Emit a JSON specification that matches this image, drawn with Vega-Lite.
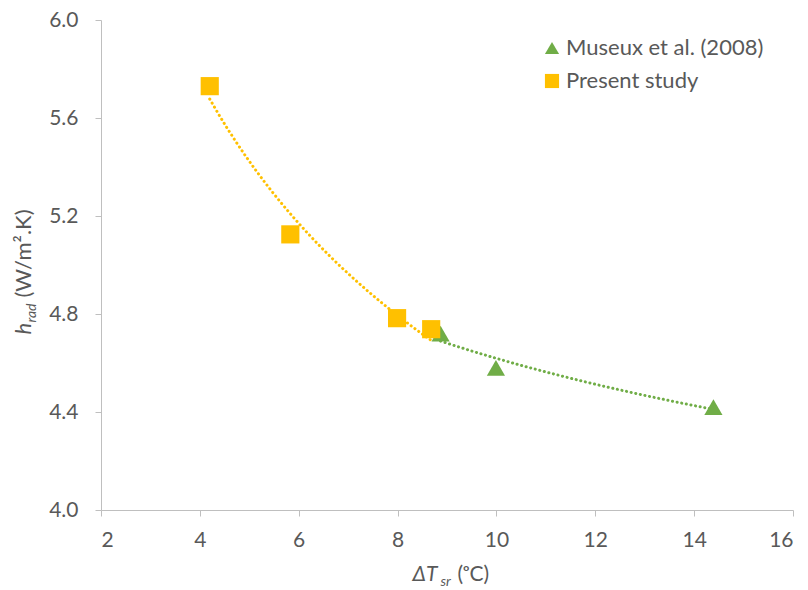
{
  "$schema": "https://vega.github.io/schema/vega-lite/v6.json",
  "width": 692,
  "height": 490,
  "autosize": {"type": "none"},
  "padding": {"left": 101, "top": 20, "right": 15, "bottom": 80},
  "background": "white",
  "config": {
    "view": {"stroke": null},
    "font": "Lato",
    "axis": {
      "grid": false,
      "domainColor": "#bfbfbf",
      "tickColor": "#bfbfbf",
      "tickSize": 6,
      "labelColor": "#595959",
      "labelFont": "Lato",
      "labelFontSize": 21,
      "titleColor": "#595959",
      "titleFont": "Lato",
      "titleFontWeight": "normal"
    }
  },
  "data": {
    "values": [
      {"series": "Museux et al. (2008)", "x": 8.87, "y": 4.72},
      {"series": "Museux et al. (2008)", "x": 9.99, "y": 4.58},
      {"series": "Museux et al. (2008)", "x": 14.39, "y": 4.42},
      {"series": "Present study", "x": 4.2, "y": 5.73},
      {"series": "Present study", "x": 5.83, "y": 5.125},
      {"series": "Present study", "x": 7.99, "y": 4.783},
      {"series": "Present study", "x": 8.68, "y": 4.738}
    ]
  },
  "resolve": {"axis": {"x": "independent", "y": "independent"}},
  "layer": [
    {
      "transform": [
        {"filter": "datum.series === 'Present study'"},
        {"regression": "y", "on": "x", "method": "pow"}
      ],
      "mark": {"type": "line", "stroke": "#FFC000", "strokeWidth": 3, "strokeCap": "round", "strokeDash": [0.1, 4.6]},
      "encoding": {
        "x": {
          "field": "x", "type": "quantitative",
          "scale": {"domain": [2, 16], "nice": false, "zero": false},
          "axis": {
            "orient": "bottom", "values": [2, 4, 6, 8, 10, 12, 14, 16], "labelPadding": 13,
            "title": "ΔT", "titleFontStyle": "italic", "titleFontSize": 21,
            "titleAlign": "left", "titleBaseline": "alphabetic",
            "titleX": 311, "titleY": 70, "titleAngle": 0
          }
        },
        "y": {
          "field": "y", "type": "quantitative",
          "scale": {"domain": [4, 6], "nice": false, "zero": false},
          "axis": {
            "orient": "left", "values": [4, 4.4, 4.8, 5.2, 5.6, 6], "format": ".1f", "labelPadding": 17,
            "title": "h", "titleFontStyle": "italic", "titleFontSize": 22,
            "titleAlign": "left", "titleBaseline": "alphabetic", "titleAngle": 270,
            "titleX": -71, "titleY": 314
          }
        }
      }
    },
    {
      "transform": [
        {"filter": "datum.series === 'Museux et al. (2008)'"},
        {"regression": "y", "on": "x", "method": "pow"}
      ],
      "mark": {"type": "line", "stroke": "#70AD47", "strokeWidth": 3, "strokeCap": "round", "strokeDash": [0.1, 4.6]},
      "encoding": {
        "x": {
          "field": "x", "type": "quantitative",
          "scale": {"domain": [2, 16], "nice": false, "zero": false},
          "axis": {
            "orient": "bottom", "labels": false, "ticks": false, "domain": false,
            "title": "sr", "titleFontStyle": "italic", "titleFontSize": 14,
            "titleAlign": "left", "titleBaseline": "alphabetic",
            "titleX": 339, "titleY": 75, "titleAngle": 0
          }
        },
        "y": {
          "field": "y", "type": "quantitative",
          "scale": {"domain": [4, 6], "nice": false, "zero": false},
          "axis": {
            "orient": "left", "labels": false, "ticks": false, "domain": false,
            "title": "rad", "titleFontStyle": "italic", "titleFontSize": 14,
            "titleAlign": "left", "titleBaseline": "alphabetic", "titleAngle": 270,
            "titleX": -66, "titleY": 302
          }
        }
      }
    },
    {
      "mark": {"type": "point", "filled": true, "opacity": 1, "size": 330},
      "encoding": {
        "x": {
          "field": "x", "type": "quantitative",
          "scale": {"domain": [2, 16], "nice": false, "zero": false},
          "axis": {
            "orient": "bottom", "labels": false, "ticks": false, "domain": false,
            "title": "(ᵒC)", "titleFontSize": 21,
            "titleAlign": "left", "titleBaseline": "alphabetic",
            "titleX": 356, "titleY": 70, "titleAngle": 0
          }
        },
        "y": {
          "field": "y", "type": "quantitative",
          "scale": {"domain": [4, 6], "nice": false, "zero": false},
          "axis": {
            "orient": "left", "labels": false, "ticks": false, "domain": false,
            "title": "(W/m².K)", "titleFontSize": 22,
            "titleAlign": "left", "titleBaseline": "alphabetic", "titleAngle": 270,
            "titleX": -71, "titleY": 277
          }
        },
        "color": {
          "field": "series", "type": "nominal",
          "scale": {"domain": ["Museux et al. (2008)", "Present study"], "range": ["#70AD47", "#FFC000"]},
          "legend": {
            "title": null, "orient": "none", "legendX": 440, "legendY": 17,
            "labelFontSize": 22, "labelColor": "#595959", "labelFont": "Lato", "labelLimit": 400,
            "symbolSize": 200, "labelOffset": 3, "rowPadding": 11, "padding": 0,
            "symbolStrokeWidth": 0
          }
        },
        "shape": {
          "field": "series", "type": "nominal",
          "scale": {"domain": ["Museux et al. (2008)", "Present study"], "range": ["triangle-up", "square"]}
        }
      }
    }
  ]
}
